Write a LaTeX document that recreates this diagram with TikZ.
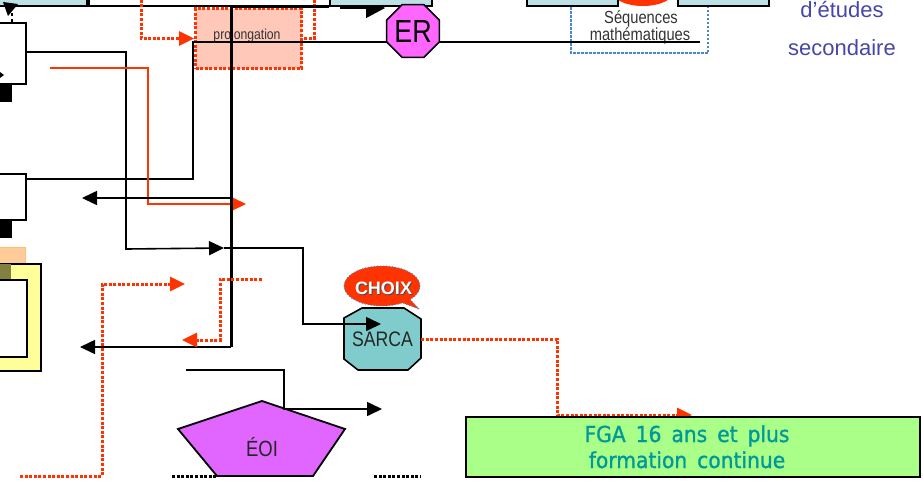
\documentclass[tikz,border=0pt]{standalone}
\usepackage{fontspec}
\setmainfont{Liberation Sans}
\newfontfamily\narrowfont[FakeStretch=0.84]{Liberation Sans}
\newfontfamily\fgafont[FakeStretch=0.92,FakeBold=1.2]{DejaVu Sans}
\usetikzlibrary{arrows.meta,shapes.geometric,shapes.callouts}

\definecolor{lightblue}{HTML}{BCE0E4}
\definecolor{pinkbox}{HTML}{FFC8B8}
\definecolor{redline}{HTML}{FF3300}
\definecolor{ermagenta}{HTML}{FF66FF}
\definecolor{eoimagenta}{HTML}{E066FF}
\definecolor{sarcateal}{HTML}{80CCCC}
\definecolor{fgagreen}{HTML}{AAFF88}
\definecolor{fgatext}{HTML}{009999}
\definecolor{yellowbox}{HTML}{FFFF99}
\definecolor{peachbox}{HTML}{FFCC99}
\definecolor{olivebox}{HTML}{808040}
\definecolor{bluedot}{HTML}{4A86C8}
\definecolor{titleblue}{HTML}{4646AA}

\begin{document}
\begin{tikzpicture}[x=1pt,y=-1pt,
	box/.style={draw=black,line width=1.6pt,inner sep=0pt},
	wire/.style={draw=black,line width=1.6pt},
	flow/.style={wire,-{Triangle[length=15pt,width=14pt]}},
	bigwire/.style={draw=black,line width=3pt},
	redflow/.style={draw=redline,line width=2pt,-{Triangle[length=15pt,width=14pt]}},
	reddot/.style={draw=redline,line width=3pt,dash pattern=on 3pt off 1.6pt},
	reddotflow/.style={reddot,-{Triangle[length=15pt,width=14pt,fill=redline]}},
	blackdot/.style={draw=black,line width=3pt,dash pattern=on 3pt off 1.6pt},
	label/.style={text=black!80,inner sep=0pt}]
\useasboundingbox (0,0) rectangle (923,483);

% top row
\draw[bluedot,line width=2.5pt,dash pattern=on 2.5pt off 1.5pt] (571,-5) rectangle (708,53);
\draw[-{Triangle[length=19pt,width=20pt]},line width=1.2pt] (340,8) -- (385,8);
\node[box,fill=lightblue,minimum width=98,minimum height=30,anchor=south east] (topleft) at (88,7) {};
\node[box,fill=white,minimum width=241,minimum height=30,anchor=south west] (topmid) at (88,7) {};
\node[box,fill=lightblue,minimum width=102,minimum height=30,anchor=south west] (topright) at (329,7) {};
\fill[redline] (643,-10) ellipse [x radius=32,y radius=16];
\node[box,fill=lightblue,minimum width=91,minimum height=30,anchor=south west] (seqleft) at (526,7) {};
\node[box,fill=lightblue,minimum width=91,minimum height=30,anchor=south west] (seqright) at (677,7) {};
\node[label,anchor=base,font=\narrowfont\fontsize{17.5}{18}\selectfont] (seqa) at (641,23) {Séquences};
\node[label,anchor=base,font=\narrowfont\fontsize{17.5}{18}\selectfont] (seqb) at (640,40) {mathématiques};
\node[text=titleblue,anchor=base,font=\fontsize{22}{22}\selectfont] (etudes) at (842,17) {d’études};
\node[text=titleblue,anchor=base,font=\fontsize{22}{22}\selectfont] (second) at (842,55) {secondaire};

% left column
\node[box,fill=white,minimum width=40,minimum height=61,anchor=north east] (boxa) at (27,22) {};
\node[box,fill=black,minimum width=20,minimum height=17,anchor=north east] (sqa) at (12,83) {};
\node[box,fill=white,minimum width=40,minimum height=46,anchor=north east] (boxb) at (27,173) {};
\node[box,fill=black,minimum width=20,minimum height=17,anchor=north east] (sqb) at (12,219) {};
\node[box,draw=peachbox!80!orange,line width=0.8pt,fill=peachbox,minimum width=34,minimum height=16,anchor=north east] (peach) at (26,247) {};
\node[box,fill=yellowbox,minimum width=50,minimum height=107,anchor=north east] (yframe) at (42,263) {};
\node[box,fill=olivebox,draw=none,minimum width=20,minimum height=16,anchor=north east] (olive) at (12,263) {};
\node[box,fill=white,minimum width=40,minimum height=77,anchor=north east] (yinner) at (28,279) {};
\draw[wire,dashed] (boxa.north -| 12,0) -- (12,13);
\fill (3,2) -- (18,4) -- (8,16) -- cycle;
\fill (0,72) -- (4,75) -- (0,78) -- cycle;

% prolongation
\node[box,draw=redline,line width=3pt,dash pattern=on 3pt off 1.6pt,fill=pinkbox,minimum width=106,minimum height=60,anchor=north west] (prol) at (194,7) {};
\node[label,anchor=base,font=\narrowfont\fontsize{14.5}{15}\selectfont] (prollabel) at (247,39) {prolongation};
\draw[reddotflow] (141,-5) |- (prol.west);
\draw[reddot] (314,-5) |- (prol.east);

% black connectors
\coordinate (split) at (224,248);
\coordinate (sarcain) at (381,324);
\draw[flow] (boxa.east |- 0,52) -| (126,249) -- (split);
\draw[wire] (boxb.east |- 0,179) -| (193,42) -- (700,42);
\draw[redflow] (50,68) -| (148,204) -- (246,204);
\draw[bigwire] (topright.south west |- 0,6) -- (231,6) -- (231,347);
\draw[flow] (231,198) -- (82,198);
\draw[flow] (231,347) -- (80,347);
\draw[reddotflow] (20,476) -| (102,284) -- (185,284);
\draw[reddotflow] (262,279) -| (220,340) -- (182,340);

% ER
\node[regular polygon,regular polygon sides=8,minimum size=50,inner sep=0pt,fill=ermagenta,draw=black,line width=1.6pt,font=\narrowfont\fontsize{32}{32}\selectfont] (er) at (413,31) {ER};

% SARCA and CHOIX
\draw[box,fill=sarcateal] (344,318) -- (362,308) -- (404,308) -- (421,319) -- (421,358) -- (408,370) -- (358,370) -- (344,359) -- cycle;
\node[label,text=black!85,font=\narrowfont\fontsize{21}{21}\selectfont,minimum width=77,minimum height=62] (sarca) at (382.5,339) {SARCA};
\node[ellipse callout,fill=redline,draw=bluedot,line width=1pt,dotted,minimum width=76,minimum height=40,callout absolute pointer={(419,309)}] (choix) at (382,286) {};
\node[text=black!70,font=\bfseries\fontsize{18}{18}\selectfont] (choixshadow) at (384.5,289) {CHOIX};
\node[text=white,font=\bfseries\fontsize{18}{18}\selectfont] (choixtext) at (383.5,288) {CHOIX};
\draw[flow] (split) -| (303,324) -- (sarcain);
\draw[reddotflow] (sarca.east) -| (557,415) -- (692,415);

% EOI
\draw[box,line width=1.8pt,fill=eoimagenta] (262,401) -- (345,429) -- (313,476) -- (217,476) -- (178,429) -- cycle;
\node[label,text=black!85,anchor=base,font=\narrowfont\fontsize{22}{22}\selectfont] (eoi) at (262,456) {ÉOI};
\draw[flow] (186,370) -| (284,409) -- (382,409);
\draw[blackdot] (172,476) -- (217,476);
\draw[blackdot] (374,476) -- (421,476);

% FGA
\node[box,line width=1.8pt,fill=fgagreen,minimum width=454,minimum height=60,anchor=north west] (fga) at (465,416) {};
\node[text=fgatext,anchor=base,font=\fgafont\fontsize{22}{22}\selectfont] (fgaa) at (687,442) {\spaceskip=10pt FGA 16 ans et plus};
\node[text=fgatext,anchor=base,font=\fgafont\fontsize{22}{22}\selectfont] (fgab) at (687,468) {\spaceskip=10pt formation continue};
\end{tikzpicture}
\end{document}
